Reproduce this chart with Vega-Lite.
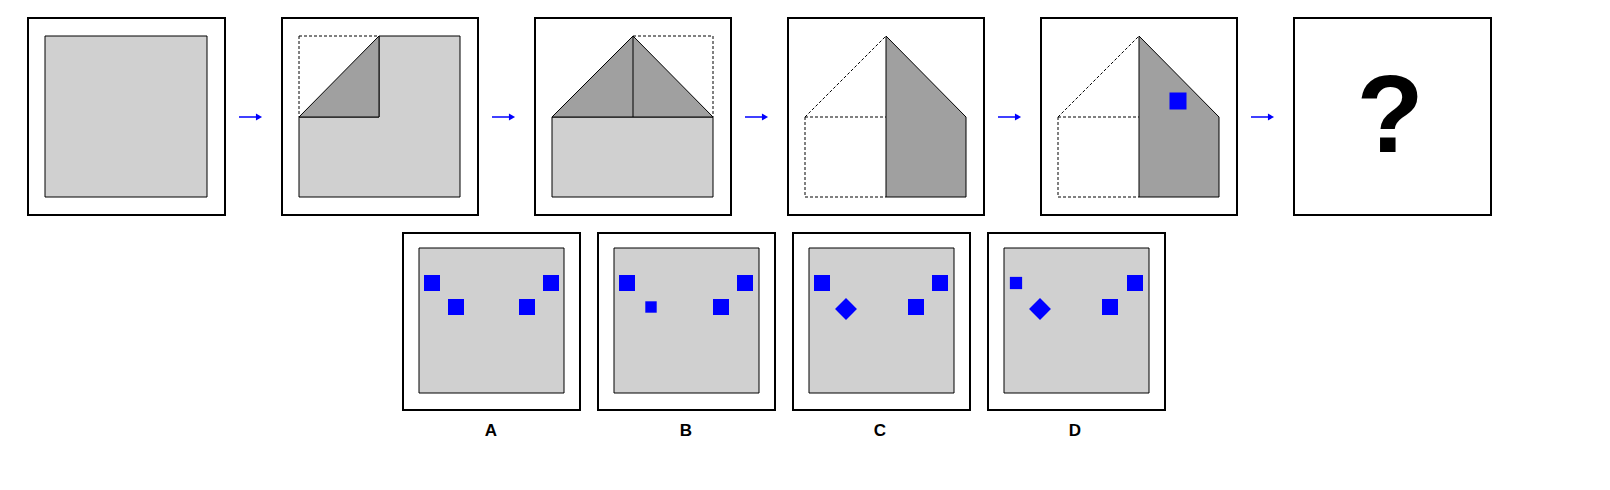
{
  "$schema": "https://vega.github.io/schema/vega-lite/v6.json",
  "width": 1610,
  "height": 490,
  "autosize": {"type": "none"},
  "padding": 0,
  "background": "white",
  "config": {"view": {"stroke": null}},
  "datasets": {
    "rects": [
      {"x": 28, "x2": 225, "y": 18, "y2": 215, "kind": "frame"},
      {"x": 282, "x2": 478, "y": 18, "y2": 215, "kind": "frame"},
      {"x": 535, "x2": 731, "y": 18, "y2": 215, "kind": "frame"},
      {"x": 788, "x2": 984, "y": 18, "y2": 215, "kind": "frame"},
      {"x": 1041, "x2": 1237, "y": 18, "y2": 215, "kind": "frame"},
      {"x": 1294, "x2": 1491, "y": 18, "y2": 215, "kind": "frame"},
      {"x": 403, "x2": 580, "y": 233, "y2": 410, "kind": "frame"},
      {"x": 598, "x2": 775, "y": 233, "y2": 410, "kind": "frame"},
      {"x": 793, "x2": 970, "y": 233, "y2": 410, "kind": "frame"},
      {"x": 988, "x2": 1165, "y": 233, "y2": 410, "kind": "frame"},
      {"x": 45, "x2": 207, "y": 36, "y2": 197, "kind": "gray"},
      {"x": 552, "x2": 713, "y": 117, "y2": 197, "kind": "gray"},
      {"x": 419, "x2": 564, "y": 248, "y2": 393, "kind": "gray"},
      {"x": 614, "x2": 759, "y": 248, "y2": 393, "kind": "gray"},
      {"x": 809, "x2": 954, "y": 248, "y2": 393, "kind": "gray"},
      {"x": 1004, "x2": 1149, "y": 248, "y2": 393, "kind": "gray"}
    ],
    "polys": [
      {"id": "p2light", "tone": "light", "ord": 1, "x": 379, "y": 36},
      {"id": "p2light", "tone": "light", "ord": 2, "x": 460, "y": 36},
      {"id": "p2light", "tone": "light", "ord": 3, "x": 460, "y": 197},
      {"id": "p2light", "tone": "light", "ord": 4, "x": 299, "y": 197},
      {"id": "p2light", "tone": "light", "ord": 5, "x": 299, "y": 117},
      {"id": "p2light", "tone": "light", "ord": 6, "x": 379, "y": 117},
      {"id": "p2dark", "tone": "dark", "ord": 1, "x": 299, "y": 117},
      {"id": "p2dark", "tone": "dark", "ord": 2, "x": 379, "y": 36},
      {"id": "p2dark", "tone": "dark", "ord": 3, "x": 379, "y": 117},
      {"id": "p3dark", "tone": "dark", "ord": 1, "x": 552, "y": 117},
      {"id": "p3dark", "tone": "dark", "ord": 2, "x": 633, "y": 36},
      {"id": "p3dark", "tone": "dark", "ord": 3, "x": 713, "y": 117},
      {"id": "p4dark", "tone": "dark", "ord": 1, "x": 886, "y": 36},
      {"id": "p4dark", "tone": "dark", "ord": 2, "x": 966, "y": 117},
      {"id": "p4dark", "tone": "dark", "ord": 3, "x": 966, "y": 197},
      {"id": "p4dark", "tone": "dark", "ord": 4, "x": 886, "y": 197},
      {"id": "p5dark", "tone": "dark", "ord": 1, "x": 1139, "y": 36},
      {"id": "p5dark", "tone": "dark", "ord": 2, "x": 1219, "y": 117},
      {"id": "p5dark", "tone": "dark", "ord": 3, "x": 1219, "y": 197},
      {"id": "p5dark", "tone": "dark", "ord": 4, "x": 1139, "y": 197}
    ],
    "segs": [
      {"x": 299, "y": 36, "x2": 379, "y2": 36, "style": "dash"},
      {"x": 299, "y": 36, "x2": 299, "y2": 117, "style": "dash"},
      {"x": 633, "y": 36, "x2": 633, "y2": 117, "style": "solid"},
      {"x": 633, "y": 36, "x2": 713, "y2": 36, "style": "dash"},
      {"x": 713, "y": 36, "x2": 713, "y2": 117, "style": "dash"},
      {"x": 805, "y": 117, "x2": 886, "y2": 36, "style": "dash"},
      {"x": 805, "y": 117, "x2": 805, "y2": 197, "style": "dash"},
      {"x": 805, "y": 197, "x2": 886, "y2": 197, "style": "dash"},
      {"x": 805, "y": 117, "x2": 886, "y2": 117, "style": "dash"},
      {"x": 1058, "y": 117, "x2": 1139, "y2": 36, "style": "dash"},
      {"x": 1058, "y": 117, "x2": 1058, "y2": 197, "style": "dash"},
      {"x": 1058, "y": 197, "x2": 1139, "y2": 197, "style": "dash"},
      {"x": 1058, "y": 117, "x2": 1139, "y2": 117, "style": "dash"}
    ],
    "arrows": [
      {"x": 239, "x2": 257, "tip": 259, "y": 117},
      {"x": 492, "x2": 510, "tip": 512, "y": 117},
      {"x": 745, "x2": 763, "tip": 765, "y": 117},
      {"x": 998, "x2": 1016, "tip": 1018, "y": 117},
      {"x": 1251, "x2": 1269, "tip": 1271, "y": 117}
    ],
    "dots": [
      {"x": 1178, "y": 101, "shape": "square", "size": 289},
      {"x": 432, "y": 283, "shape": "square", "size": 256},
      {"x": 456, "y": 307, "shape": "square", "size": 256},
      {"x": 527, "y": 307, "shape": "square", "size": 256},
      {"x": 551, "y": 283, "shape": "square", "size": 256},
      {"x": 627, "y": 283, "shape": "square", "size": 256},
      {"x": 651, "y": 307, "shape": "square", "size": 130},
      {"x": 721, "y": 307, "shape": "square", "size": 256},
      {"x": 745, "y": 283, "shape": "square", "size": 256},
      {"x": 822, "y": 283, "shape": "square", "size": 256},
      {"x": 846, "y": 309, "shape": "diamond", "size": 480},
      {"x": 916, "y": 307, "shape": "square", "size": 256},
      {"x": 940, "y": 283, "shape": "square", "size": 256},
      {"x": 1016, "y": 283, "shape": "square", "size": 150},
      {"x": 1040, "y": 309, "shape": "diamond", "size": 480},
      {"x": 1110, "y": 307, "shape": "square", "size": 256},
      {"x": 1135, "y": 283, "shape": "square", "size": 256}
    ],
    "labels": [
      {"x": 491, "y": 431, "text": "A", "size": 17},
      {"x": 686, "y": 431, "text": "B", "size": 17},
      {"x": 880, "y": 431, "text": "C", "size": 17},
      {"x": 1075, "y": 431, "text": "D", "size": 17},
      {"x": 1390, "y": 119, "text": "?", "size": 110}
    ]
  },
  "encoding": {
    "x": {"field": "x", "type": "quantitative", "axis": null, "scale": {"domain": [0, 1610], "nice": false, "zero": false}},
    "y": {"field": "y", "type": "quantitative", "axis": null, "scale": {"domain": [0, 490], "nice": false, "zero": false, "reverse": true}}
  },
  "layer": [
    {
      "data": {"name": "rects"},
      "transform": [{"filter": "datum.kind == 'frame'"}],
      "mark": {"type": "rect", "fill": "white", "stroke": "black", "strokeWidth": 2},
      "encoding": {"x2": {"field": "x2"}, "y2": {"field": "y2"}}
    },
    {
      "data": {"name": "rects"},
      "transform": [{"filter": "datum.kind == 'gray'"}],
      "mark": {"type": "rect", "fill": "#d0d0d0", "stroke": "black", "strokeWidth": 1},
      "encoding": {"x2": {"field": "x2"}, "y2": {"field": "y2"}}
    },
    {
      "data": {"name": "polys"},
      "transform": [{"filter": "datum.tone == 'light'"}],
      "mark": {"type": "line", "interpolate": "linear-closed", "fill": "#d0d0d0", "stroke": "black", "strokeWidth": 1},
      "encoding": {"order": {"field": "ord"}, "detail": {"field": "id"}}
    },
    {
      "data": {"name": "polys"},
      "transform": [{"filter": "datum.tone == 'dark'"}],
      "mark": {"type": "line", "interpolate": "linear-closed", "fill": "#a0a0a0", "stroke": "black", "strokeWidth": 1},
      "encoding": {"order": {"field": "ord"}, "detail": {"field": "id"}}
    },
    {
      "data": {"name": "segs"},
      "transform": [{"filter": "datum.style == 'dash'"}],
      "mark": {"type": "rule", "stroke": "black", "strokeWidth": 1, "strokeDash": [3, 2]},
      "encoding": {"x2": {"field": "x2"}, "y2": {"field": "y2"}}
    },
    {
      "data": {"name": "segs"},
      "transform": [{"filter": "datum.style == 'solid'"}],
      "mark": {"type": "rule", "stroke": "black", "strokeWidth": 1},
      "encoding": {"x2": {"field": "x2"}, "y2": {"field": "y2"}}
    },
    {
      "data": {"name": "arrows"},
      "mark": {"type": "rule", "stroke": "#0000ff", "strokeWidth": 1.5},
      "encoding": {"x2": {"field": "x2"}}
    },
    {
      "data": {"name": "arrows"},
      "mark": {"type": "point", "shape": "triangle-right", "filled": true, "color": "#0000ff", "size": 50, "opacity": 1},
      "encoding": {"x": {"field": "tip", "type": "quantitative"}}
    },
    {
      "data": {"name": "dots"},
      "mark": {"type": "point", "filled": true, "color": "#0000ff", "opacity": 1},
      "encoding": {
        "shape": {"field": "shape", "type": "nominal", "scale": null, "legend": null},
        "size": {"field": "size", "type": "quantitative", "scale": null, "legend": null}
      }
    },
    {
      "data": {"name": "labels"},
      "mark": {"type": "text", "font": "Liberation Sans", "fontWeight": "bold", "color": "black", "baseline": "middle", "align": "center"},
      "encoding": {
        "text": {"field": "text"},
        "size": {"field": "size", "type": "quantitative", "scale": null, "legend": null}
      }
    }
  ]
}
